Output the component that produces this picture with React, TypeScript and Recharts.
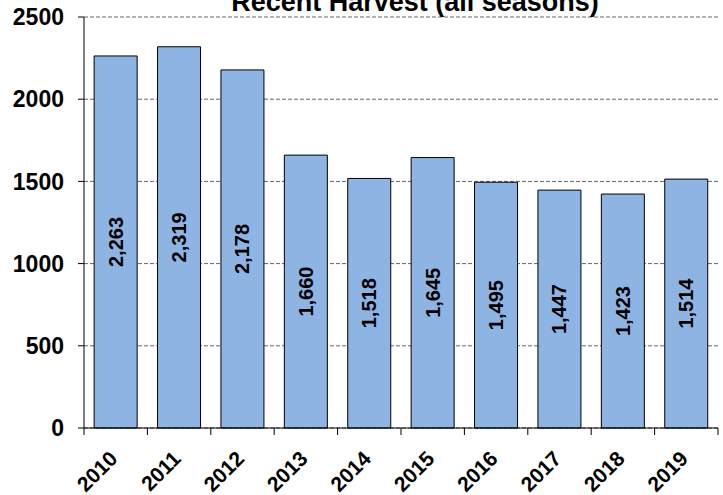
import React from "react";
import { BarChart, Bar, XAxis, YAxis, CartesianGrid, LabelList } from "recharts";

const years = ["2010", "2011", "2012", "2013", "2014", "2015", "2016", "2017", "2018", "2019"];
const harvest = [2263, 2319, 2178, 1660, 1518, 1645, 1495, 1447, 1423, 1514];
const yTicks = [0, 500, 1000, 1500, 2000, 2500];
const title = "Recent Harvest (all seasons)";

const data = years.map((y, i) => ({ year: y, value: harvest[i] }));

const W = 723;
const H = 495;
const Y_AXIS_W = 84;
const M_RIGHT = 5;
const M_TOP = 17;
const X_AXIS_H = 67;
const PLOT_W = W - Y_AXIS_W - M_RIGHT;
const STEP = PLOT_W / years.length;
const FONT = "'Liberation Sans', Arial, Helvetica, sans-serif";

const XTick = (props: any) => {
  const { x, y, payload, index } = props;
  const left = x - STEP / 2;
  const right = x + STEP / 2;
  const ax = x + 3;
  const ay = y + 32;
  return (
    <g>
      <line x1={left} x2={left} y1={y} y2={y + 7} stroke="#000" strokeWidth={1} />
      {index === years.length - 1 && (
        <line x1={right} x2={right} y1={y} y2={y + 7} stroke="#000" strokeWidth={1} />
      )}
      <text
        x={ax}
        y={ay}
        textAnchor="end"
        transform={`rotate(-45, ${ax}, ${ay})`}
        fontFamily={FONT}
        fontWeight="bold"
        fontSize={21}
        fill="#000"
      >
        {payload.value}
      </text>
    </g>
  );
};

const BarLabel = (props: any) => {
  const { x, y, width, height, value } = props;
  const cx = x + width / 2;
  const cy = y + height / 2;
  return (
    <text
      x={cx}
      y={cy}
      textAnchor="middle"
      dominantBaseline="central"
      transform={`rotate(-90, ${cx}, ${cy})`}
      fontFamily={FONT}
      fontWeight="bold"
      fontSize={20}
      fill="#000"
    >
      {Number(value).toLocaleString("en-US")}
    </text>
  );
};

export default function App() {
  return (
    <div style={{ position: "fixed", left: 0, top: 0, width: W, height: H, overflow: "hidden", background: "#fff" }}>
      <BarChart
        width={W}
        height={H}
        data={data}
        margin={{ top: M_TOP, right: M_RIGHT, bottom: 0, left: 0 }}
        barCategoryGap="16%"
      >
        <CartesianGrid horizontal vertical={false} stroke="#666" strokeDasharray="4 2" />
        <XAxis
          dataKey="year"
          height={X_AXIS_H}
          axisLine={{ stroke: "#000", strokeWidth: 1 }}
          tickLine={false}
          tickSize={0}
          tickMargin={0}
          interval={0}
          tick={<XTick />}
        />
        <YAxis
          width={Y_AXIS_W}
          domain={[0, 2500]}
          ticks={yTicks}
          interval={0}
          axisLine={{ stroke: "#000", strokeWidth: 1 }}
          tickLine={{ stroke: "#000", strokeWidth: 1 }}
          tickSize={6}
          tickMargin={14}
          tick={{ fontFamily: FONT, fontWeight: "bold", fontSize: 23, fill: "#000" }}
        />
        <Bar dataKey="value" fill="#8EB4E3" stroke="#000" strokeWidth={1} isAnimationActive={false}>
          <LabelList dataKey="value" content={<BarLabel />} />
        </Bar>
      </BarChart>
      <svg width={W} height={H} style={{ position: "absolute", left: 0, top: 0, pointerEvents: "none" }}>
        <text x={415} y={11} textAnchor="middle" fontFamily={FONT} fontWeight="bold" fontSize={27} fill="#000">
          {title}
        </text>
      </svg>
    </div>
  );
}
